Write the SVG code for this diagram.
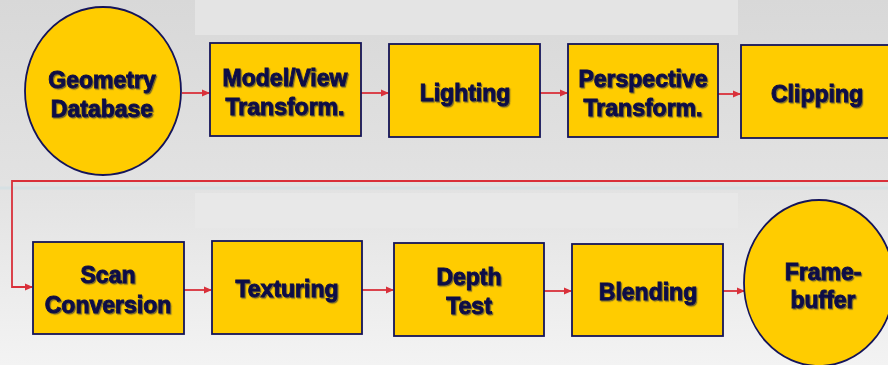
<svg xmlns="http://www.w3.org/2000/svg" width="888" height="365" viewBox="0 0 888 365">
<defs>
<linearGradient id="bg" x1="0" y1="0" x2="0" y2="1">
<stop offset="0" stop-color="#d8d8d8"/>
<stop offset="0.5" stop-color="#e2e2e2"/>
<stop offset="1" stop-color="#f3f3f3"/>
</linearGradient>
<filter id="sh" x="-10%" y="-20%" width="120%" height="140%">
<feDropShadow dx="1.2" dy="1.2" stdDeviation="0.6" flood-color="#3a3a3a" flood-opacity="0.7"/>
</filter>
<marker id="ah" markerWidth="8" markerHeight="8" refX="7" refY="4" orient="auto" markerUnits="userSpaceOnUse">
<path d="M0,0.5 L8,4 L0,7.5 Z" fill="#d9303a"/>
</marker>
</defs>
<style>
.box{fill:#ffcc00;stroke:#14145a;stroke-width:1.8}
.t{font-family:"Liberation Sans",Arial,sans-serif;font-weight:bold;font-size:23px;fill:#0a0a46;stroke:#0a0a46;stroke-width:0.9;text-anchor:middle;filter:url(#sh)}
.c{fill:none;stroke:#d9303a;stroke-width:1.8}
</style>
<rect width="888" height="365" fill="url(#bg)"/>
<rect x="195" y="0" width="543" height="35" fill="#e4e4e4"/>
<rect x="195" y="193" width="543" height="35" fill="#e8e8e8"/>
<line x1="0" y1="188" x2="888" y2="188" stroke="#d6e0e3" stroke-width="3"/>
<g id="connectors">
<line class="c" x1="182" y1="93" x2="209" y2="93" marker-end="url(#ah)"/>
<line class="c" x1="361" y1="93" x2="388" y2="93" marker-end="url(#ah)"/>
<line class="c" x1="540" y1="93" x2="567" y2="93" marker-end="url(#ah)"/>
<line class="c" x1="718" y1="94" x2="740" y2="94" marker-end="url(#ah)"/>
<polyline class="c" points="888,181 12,181 12,287 32,287" marker-end="url(#ah)"/>
<line class="c" x1="184" y1="290" x2="211" y2="290" marker-end="url(#ah)"/>
<line class="c" x1="362" y1="290" x2="393" y2="290" marker-end="url(#ah)"/>
<line class="c" x1="544" y1="291" x2="571" y2="291" marker-end="url(#ah)"/>
<line class="c" x1="723" y1="291" x2="744" y2="291" marker-end="url(#ah)"/>
</g>
<g id="geometry-database">
<ellipse class="box" cx="103" cy="91" rx="78" ry="84"/>
<text class="t" x="102" y="88">Geometry</text>
<text class="t" x="102" y="117">Database</text>
</g>
<g id="model-view">
<rect class="box" x="210" y="43" width="151" height="93"/>
<text class="t" x="285" y="86">Model/View</text>
<text class="t" x="285" y="115">Transform.</text>
</g>
<g id="lighting">
<rect class="box" x="389" y="44" width="151" height="93"/>
<text class="t" x="465" y="101">Lighting</text>
</g>
<g id="perspective">
<rect class="box" x="568" y="44" width="150" height="93"/>
<text class="t" x="643" y="87">Perspective</text>
<text class="t" x="643" y="116">Transform.</text>
</g>
<g id="clipping">
<rect class="box" x="741" y="45" width="152" height="93"/>
<text class="t" x="817" y="102">Clipping</text>
</g>
<g id="scan-conversion">
<rect class="box" x="33" y="242" width="151" height="92"/>
<text class="t" x="108" y="283">Scan</text>
<text class="t" x="108" y="313">Conversion</text>
</g>
<g id="texturing">
<rect class="box" x="212" y="241" width="150" height="93"/>
<text class="t" x="287" y="297">Texturing</text>
</g>
<g id="depth-test">
<rect class="box" x="394" y="243" width="150" height="93"/>
<text class="t" x="469" y="285">Depth</text>
<text class="t" x="469" y="314">Test</text>
</g>
<g id="blending">
<rect class="box" x="572" y="244" width="151" height="92"/>
<text class="t" x="648" y="300">Blending</text>
</g>
<g id="framebuffer">
<ellipse class="box" cx="819" cy="283" rx="75" ry="83"/>
<text class="t" x="823" y="280">Frame-</text>
<text class="t" x="823" y="308">buffer</text>
</g>
</svg>
